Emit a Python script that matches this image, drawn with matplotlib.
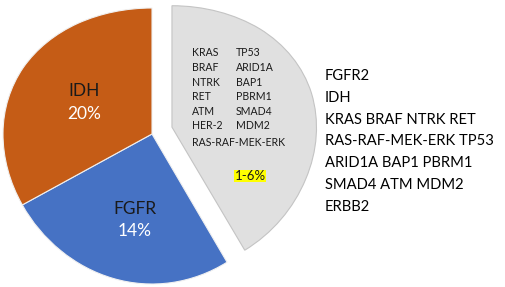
import numpy as np
import matplotlib.pyplot as plt

# sizes of the three wedges as drawn (clockwise from the top)
segments = ['Others', 'FGFR', 'IDH']
sizes = [41.6, 25.2, 33.2]
colors = ['#E0E0E0', '#4672C4', '#C55C16']

pie_labels = ['FGFR', 'IDH']
pie_pcts = ['14%', '20%']

genes_col1 = ['KRAS', 'BRAF', 'NTRK', 'RET', 'ATM', 'HER-2']
genes_col2 = ['TP53', 'ARID1A', 'BAP1', 'PBRM1', 'SMAD4', 'MDM2']
gene_path = 'RAS-RAF-MEK-ERK'
others_pct = '1-6%'

legend_lines = ['FGFR2', 'IDH', 'KRAS BRAF NTRK RET', 'RAS-RAF-MEK-ERK TP53',
                'ARID1A BAP1 PBRM1', 'SMAD4 ATM MDM2', 'ERBB2']

plt.rcParams['font.family'] = ['Lato', 'DejaVu Sans']

W, H = 505, 287
fig = plt.figure(figsize=(W / 100, H / 100), dpi=100)
ax = fig.add_axes([0, 0, 1, 1])

# slight perspective: top of the pie looks farther away
k = 0.087
def fwd(y):
    return y - k * y * y
def inv(f):
    return (1 - np.sqrt(np.clip(1 - 4 * k * f, 0, None))) / (2 * k)

ax.set_yscale('function', functions=(fwd, inv))

wedges, _ = ax.pie(sizes, colors=colors, startangle=90, counterclock=False,
                   radius=1, wedgeprops=dict(linewidth=0.8, edgecolor='#F0F0F0'))
# pull the grey wedge out
wedges[0].set_center((0.134, 0.05))
wedges[0].set_radius(0.97)
wedges[0].set_edgecolor('#C4C4C4')

ax.set_aspect('auto')
cx, sx = 152, 149.0
cy, sy = 134, 138.0
ax.set_xlim(-cx / sx, (W - cx) / sx)
ax.set_ylim(inv(-(H - cy) / sy), inv(cy / sy))
ax.axis('off')

def px(x, y):
    return x / W, 1 - y / H

# labels inside the orange and blue wedges
fig.text(*px(84, 91), pie_labels[1], fontsize=12.5, ha='center', va='center', color='#1A1A1A')
fig.text(*px(84, 114), pie_pcts[1], fontsize=12.5, ha='center', va='center', color='white')
fig.text(*px(135, 209), pie_labels[0], fontsize=12.5, ha='center', va='center', color='#1A1A1A')
fig.text(*px(135, 231), pie_pcts[0], fontsize=12.5, ha='center', va='center', color='white')

# genes inside the grey wedge
for i in range(len(genes_col1)):
    y = 53 + i * 14.6
    fig.text(*px(192, y), genes_col1[i], fontsize=7.6, ha='left', va='center', color='#1A1A1A')
    fig.text(*px(236, y), genes_col2[i], fontsize=7.6, ha='left', va='center', color='#1A1A1A')
fig.text(*px(192, 143), gene_path, fontsize=7.6, ha='left', va='center', color='#1A1A1A')
fig.text(*px(250, 176), others_pct, fontsize=9.5, ha='center', va='center', color='#1A1A1A',
         bbox=dict(facecolor='#FFFF00', edgecolor='none', pad=0.3))

# list on the right
for i, line in enumerate(legend_lines):
    fig.text(*px(325, 76 + i * 21.8), line, fontsize=10.6, ha='left', va='center', color='black')

fig.savefig('out.png', dpi=100, facecolor='white')
